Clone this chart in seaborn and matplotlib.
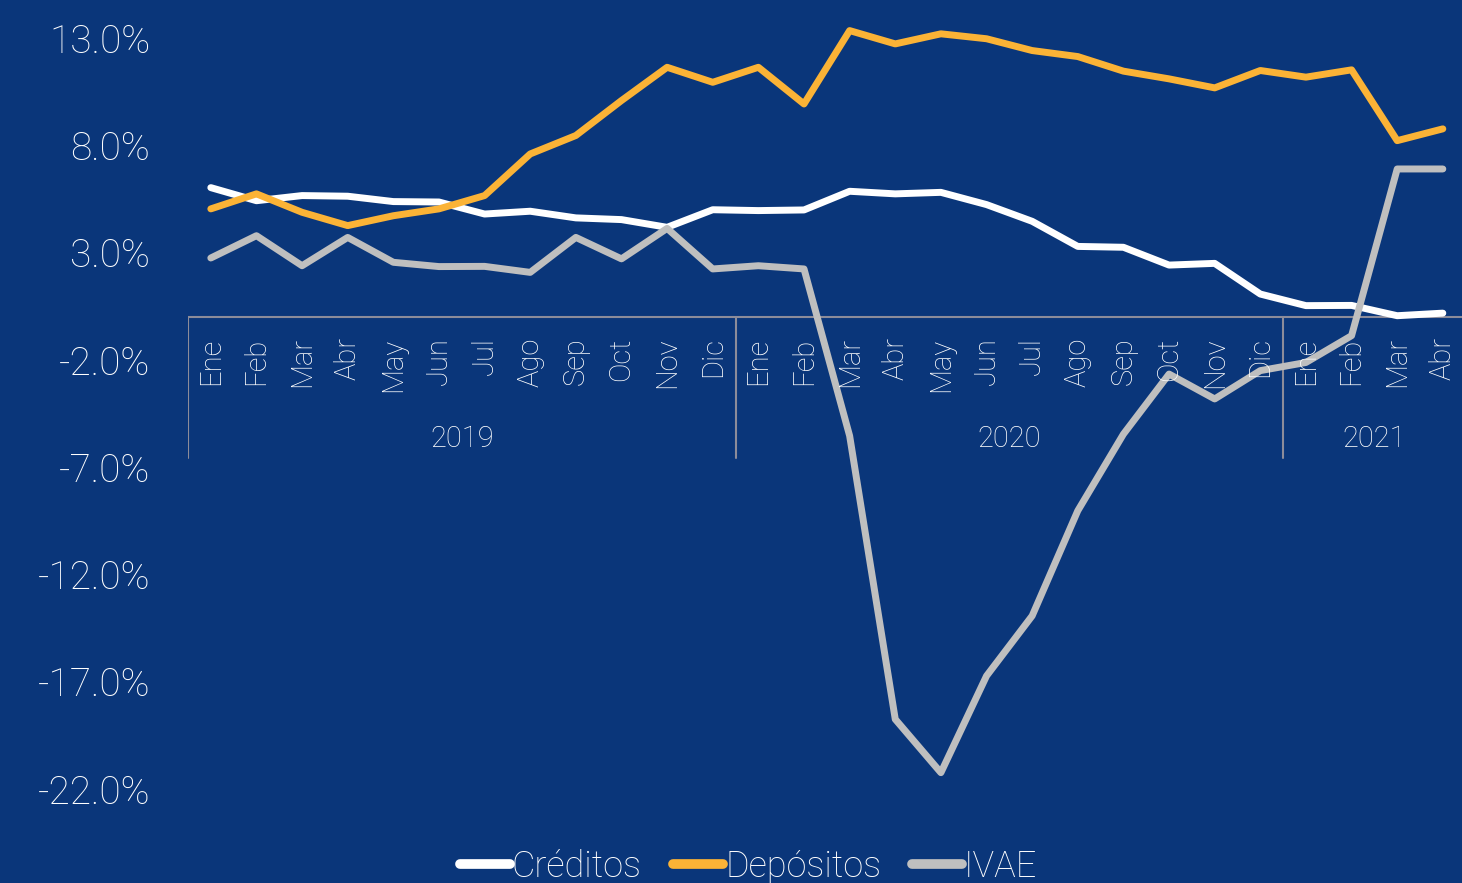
import matplotlib
matplotlib.use("Agg")
import matplotlib.pyplot as plt
import pandas as pd
import seaborn as sns

# Tasas de variación interanual (%), enero 2019 - abril 2021
meses = ["Ene", "Feb", "Mar", "Abr", "May", "Jun", "Jul", "Ago", "Sep", "Oct", "Nov", "Dic",
         "Ene", "Feb", "Mar", "Abr", "May", "Jun", "Jul", "Ago", "Sep", "Oct", "Nov", "Dic",
         "Ene", "Feb", "Mar", "Abr"]
anios = ["2019", "2020", "2021"]
meses_por_anio = [12, 12, 4]

creditos = [6.03, 5.42, 5.66, 5.63, 5.38, 5.36, 4.80, 4.93, 4.62, 4.54, 4.18, 5.00,
            4.96, 4.99, 5.86, 5.74, 5.81, 5.24, 4.46, 3.29, 3.25, 2.42, 2.50, 1.07,
            0.53, 0.54, 0.06, 0.18]
depositos = [5.04, 5.74, 4.88, 4.26, 4.72, 5.04, 5.66, 7.60, 8.46, 10.09, 11.64, 10.94,
             11.64, 9.93, 13.35, 12.73, 13.20, 12.97, 12.42, 12.14, 11.46, 11.10, 10.68, 11.49,
             11.18, 11.52, 8.22, 8.77]
ivae = [2.75, 3.79, 2.39, 3.71, 2.55, 2.35, 2.36, 2.08, 3.71, 2.71, 4.13, 2.24,
        2.39, 2.24, -5.54, -18.75, -21.24, -16.73, -13.93, -9.03, -5.46, -2.66, -3.82, -2.50,
        -2.12, -0.87, 6.90, 6.90]

series = {"Créditos": creditos, "Depósitos": depositos, "IVAE": ivae}
colores = {"Créditos": "#FFFFFF", "Depósitos": "#FBB336", "IVAE": "#BFBFBF"}
yticks = [13, 8, 3, -2, -7, -12, -17, -22]

BG = "#0A367A"
GRIS = "#8C8C9A"
FONT = ["Roboto", "DejaVu Sans"]

sns.set_theme(style="white")
plt.rcParams["font.family"] = FONT
plt.rcParams["font.weight"] = "light"

df = pd.DataFrame(
    [(i, nombre, v) for nombre, vals in series.items() for i, v in enumerate(vals)],
    columns=["idx", "serie", "valor"],
)

fig = plt.figure(figsize=(14.62, 8.83), dpi=100)
fig.patch.set_facecolor(BG)
ax = fig.add_axes([188 / 1462, 73 / 883, 1 - 188 / 1462, 800 / 883])
ax.set_facecolor(BG)

sns.lineplot(data=df, x="idx", y="valor", hue="serie", palette=colores, linewidth=5,
             ax=ax, legend=False, solid_capstyle="round", solid_joinstyle="round")

ax.set_xlim(-0.5, 27.42)
ax.set_ylim(-22.98, 14.31)
ax.set_yticks(yticks)
ax.set_yticklabels([f"{t:.1f}%" for t in yticks], color="white", fontsize=28)
ax.tick_params(axis="y", length=0, pad=27)
ax.set_xticks([])
ax.set_xlabel("")
ax.set_ylabel("")
for s in ax.spines.values():
    s.set_visible(False)

# eje horizontal en cero con etiquetas de mes y año agrupadas
ax.axhline(0, color=GRIS, lw=1.5, zorder=1)
inicio = -0.5
for anio, n in zip(anios, meses_por_anio):
    ax.plot([inicio, inicio], [0, -6.56], color=GRIS, lw=1.5, zorder=1)
    ax.text(inicio + n / 2, -5.67, anio, color="white", fontsize=21,
            ha="center", va="center", zorder=5)
    inicio += n
ax.plot([inicio, inicio], [0, -6.56], color=GRIS, lw=1.5, zorder=1)

for i, m in enumerate(meses):
    ax.text(i, -0.95, m, color="white", fontsize=21, rotation=90,
            ha="center", va="top", zorder=5)

handles = ax.get_lines()[:3]
leg = fig.legend(handles, list(series.keys()), loc="center", bbox_to_anchor=(0.512, 0.018),
                 ncol=3, frameon=False, fontsize=26, handlelength=1.4, handletextpad=0.05,
                 columnspacing=0.85, labelcolor="white")
for h in leg.legend_handles:
    h.set_linewidth(7)

fig.savefig("out.png", dpi=100, facecolor=BG)
